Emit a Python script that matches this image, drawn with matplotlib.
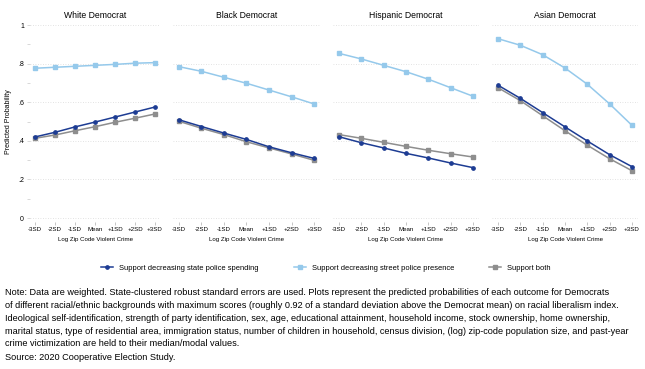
import numpy as np
import matplotlib
matplotlib.use("Agg")
import matplotlib.pyplot as plt
from matplotlib.lines import Line2D

plt.rcParams['font.family'] = ['Liberation Sans', 'DejaVu Sans']

# ── Data ──────────────────────────────────────────────────────────────────────
x_labels = ['-3SD', '-2SD', '-1SD', 'Mean', '+1SD', '+2SD', '+3SD']
panels = ['White Democrat', 'Black Democrat', 'Hispanic Democrat', 'Asian Democrat']

state_spending = [
    [0.420, 0.444, 0.472, 0.497, 0.523, 0.549, 0.575],
    [0.509, 0.474, 0.440, 0.407, 0.369, 0.338, 0.309],
    [0.421, 0.390, 0.363, 0.335, 0.311, 0.285, 0.261],
    [0.688, 0.620, 0.546, 0.472, 0.399, 0.328, 0.266],
]
street_presence = [
    [0.776, 0.781, 0.786, 0.791, 0.796, 0.802, 0.805],
    [0.784, 0.760, 0.729, 0.698, 0.663, 0.628, 0.591],
    [0.853, 0.824, 0.791, 0.758, 0.719, 0.675, 0.631],
    [0.929, 0.895, 0.846, 0.777, 0.693, 0.591, 0.480],
]
support_both = [
    [0.413, 0.430, 0.452, 0.473, 0.496, 0.517, 0.539],
    [0.501, 0.465, 0.432, 0.395, 0.363, 0.332, 0.299],
    [0.432, 0.413, 0.392, 0.371, 0.351, 0.333, 0.316],
    [0.675, 0.608, 0.530, 0.452, 0.377, 0.307, 0.245],
]

legend_labels = ['Support decreasing state police spending',
                 'Support decreasing street police presence',
                 'Support both']

note = ("Note: Data are weighted. State-clustered robust standard errors are used. Plots represent the predicted probabilities of each outcome for Democrats\n"
        "of different racial/ethnic backgrounds with maximum scores (roughly 0.92 of a standard deviation above the Democrat mean) on racial liberalism index.\n"
        "Ideological self-identification, strength of party identification, sex, age, educational attainment, household income, stock ownership, home ownership,\n"
        "marital status, type of residential area, immigration status, number of children in household, census division, (log) zip-code population size, and past-year\n"
        "crime victimization are held to their median/modal values.")
source = "Source: 2020 Cooperative Election Study."

# ── Style ─────────────────────────────────────────────────────────────────────
c_dark, c_light, c_gray = '#1d3c93', '#95c9eb', '#8e8e8e'
W, H = 645, 369

fig = plt.figure(figsize=(W / 100, H / 100), dpi=100)

# panel positions in pixels (left, width)
pos = [(29.6, 130.8), (172.9, 147.2), (333.0, 146.0), (492.0, 146.0)]
y_lo, y_hi = -0.02, 1.02
px_per_unit = 193.0
ax_h = (y_hi - y_lo) * px_per_unit
ax_bottom = H - (218 + (0 - y_lo) * px_per_unit)

xs = np.arange(len(x_labels))
for i, (left, width) in enumerate(pos):
    ax = fig.add_axes([left / W, ax_bottom / H, width / W, ax_h / H])
    ax.plot(xs, street_presence[i], color=c_light, lw=1.1, marker='s', ms=2.6, zorder=3)
    ax.plot(xs, support_both[i], color=c_gray, lw=1.1, marker='s', ms=2.6, zorder=4)
    ax.plot(xs, state_spending[i], color=c_dark, lw=1.1, marker='o', ms=2.4, zorder=5)

    ax.set_xlim(-0.27, 6.27)
    ax.set_ylim(y_lo, y_hi)
    for s in ax.spines.values():
        s.set_visible(False)
    ax.set_yticks([0, 0.2, 0.4, 0.6, 0.8, 1.0])
    ax.set_yticks([0.1, 0.3, 0.5, 0.7, 0.9], minor=True)
    ax.grid(axis='y', which='major', linestyle=(0, (1, 2)), color='#d9d9d9', linewidth=0.6)
    ax.set_xticks(xs)
    ax.set_xticklabels(x_labels, fontsize=4.4)
    ax.tick_params(axis='x', length=2, width=0.4, color='#999999', pad=2)
    ax.tick_params(axis='y', which='both', length=2, width=0.4, color='#bbbbbb', pad=2)
    if i == 0:
        ax.set_yticklabels(['0', '.2', '.4', '.6', '.8', '1'], fontsize=5)
        ax.set_ylabel('Predicted Probability', fontsize=5, labelpad=4)
    else:
        ax.tick_params(axis='y', which='both', left=False, labelleft=False)
    ax.set_xlabel('Log Zip Code Violent Crime', fontsize=4.4, labelpad=3)
    ax.set_title(panels[i], fontsize=6.2, pad=2)

# ── Legend ────────────────────────────────────────────────────────────────────
handles = [
    Line2D([], [], color=c_dark, lw=1.1, marker='o', ms=2.4),
    Line2D([], [], color=c_light, lw=1.1, marker='s', ms=2.6),
    Line2D([], [], color=c_gray, lw=1.1, marker='s', ms=2.6),
]
fig.legend(handles, legend_labels, loc='center', bbox_to_anchor=(326 / W, 1 - 268 / H),
           ncol=3, frameon=False, fontsize=5.45, handlelength=1.6, handletextpad=0.8,
           columnspacing=4.6)

# ── Note ──────────────────────────────────────────────────────────────────────
fig.text(5 / W, 1 - 288 / H, note, fontsize=6.6, va='top', ha='left',
         linespacing=1.55, color='black')
fig.text(5 / W, 1 - 353.5 / H, source, fontsize=6.6, va='top', ha='left', color='black')

fig.savefig('out.png', dpi=100, facecolor='white')
